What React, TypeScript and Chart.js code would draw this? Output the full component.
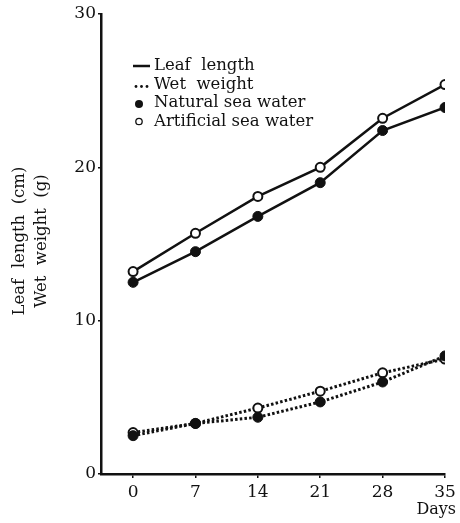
import React, { useEffect, useRef } from "react";
import { Chart, registerables } from "chart.js";

Chart.register(...registerables);

// Sampling days
const days = [0, 7, 14, 21, 28, 35];
const xTicks = [0, 7, 14, 21, 28, 35];
const yTicks = [0, 10, 20, 30];

// Leaf length (cm)
const leafNatural = [12.5, 14.5, 16.8, 19.0, 22.4, 23.9];
const leafArtificial = [13.2, 15.7, 18.1, 20.0, 23.2, 25.4];

// Wet weight (g)
const weightNatural = [2.5, 3.3, 3.7, 4.7, 6.0, 7.7];
const weightArtificial = [2.7, 3.3, 4.3, 5.4, 6.6, 7.5];

const legendItems = [
  { kind: "solid", label: "Leaf  length" },
  { kind: "dotted", label: "Wet  weight" },
  { kind: "filled", label: "Natural sea water" },
  { kind: "open", label: "Artificial sea water" },
];
const yTitleLines = ["Leaf  length  (cm)", "Wet  weight  (g)"];
const xTitle = "Days";

const FONT = '"DejaVu Serif", serif';
const INK = "#111";

const pts = (vals: number[]) => days.map((d, i) => ({ x: d, y: vals[i] }));

const filledPoint = {
  pointRadius: 5,
  pointBackgroundColor: INK,
  pointBorderColor: INK,
  pointBorderWidth: 1,
};
const openPoint = {
  pointRadius: 4.5,
  pointBackgroundColor: "#fff",
  pointBorderColor: INK,
  pointBorderWidth: 2,
};

const annotations = {
  id: "annotations",
  afterDraw(chart: any) {
    const ctx = chart.ctx as CanvasRenderingContext2D;
    ctx.save();
    ctx.fillStyle = INK;
    ctx.strokeStyle = INK;

    // legend
    ctx.font = `16.5px ${FONT}`;
    ctx.textBaseline = "middle";
    ctx.textAlign = "left";
    const lx = 133;
    const tx = 154;
    let ly = 66;
    for (const item of legendItems) {
      if (item.kind === "solid") {
        ctx.lineWidth = 2.5;
        ctx.beginPath();
        ctx.moveTo(lx, ly);
        ctx.lineTo(lx + 17, ly);
        ctx.stroke();
      } else if (item.kind === "dotted") {
        for (let i = 0; i < 3; i++) {
          ctx.beginPath();
          ctx.arc(lx + 3 + i * 5.5, ly + 2, 1.4, 0, Math.PI * 2);
          ctx.fill();
        }
      } else if (item.kind === "filled") {
        ctx.beginPath();
        ctx.arc(lx + 6, ly + 1, 4, 0, Math.PI * 2);
        ctx.fill();
      } else {
        ctx.lineWidth = 1.3;
        ctx.beginPath();
        ctx.arc(lx + 6, ly, 3.2, 0, Math.PI * 2);
        ctx.stroke();
      }
      ctx.fillText(item.label, tx, ly);
      ly += 18.5;
    }

    // y axis title (two rotated lines)
    ctx.font = `16.5px ${FONT}`;
    ctx.textAlign = "center";
    const cy = 241;
    yTitleLines.forEach((line, i) => {
      ctx.save();
      ctx.translate(20 + i * 22, cy);
      ctx.rotate(-Math.PI / 2);
      ctx.fillText(line, 0, 0);
      ctx.restore();
    });

    // x axis title
    ctx.font = `16px ${FONT}`;
    ctx.textAlign = "right";
    ctx.fillText(xTitle, 456, 510);
    ctx.restore();
  },
};

export default function App() {
  const ref = useRef<HTMLCanvasElement>(null);

  useEffect(() => {
    if (!ref.current) return;
    const chart = new Chart(ref.current, {
      type: "line",
      data: {
        datasets: [
          {
            label: "Leaf length, natural sea water",
            data: pts(leafNatural),
            borderColor: INK,
            borderWidth: 2.5,
            ...filledPoint,
          },
          {
            label: "Leaf length, artificial sea water",
            data: pts(leafArtificial),
            borderColor: INK,
            borderWidth: 2.5,
            ...openPoint,
          },
          {
            label: "Wet weight, natural sea water",
            data: pts(weightNatural),
            borderColor: INK,
            borderWidth: 3,
            borderDash: [2.5, 2.2],
            ...filledPoint,
          },
          {
            label: "Wet weight, artificial sea water",
            data: pts(weightArtificial),
            borderColor: INK,
            borderWidth: 3,
            borderDash: [2.5, 2.2],
            ...openPoint,
          },
        ],
      },
      options: {
        responsive: false,
        animation: false,
        layout: { padding: { top: 14, right: 15, left: 0, bottom: 0 } },
        plugins: {
          legend: { display: false },
          tooltip: { enabled: false },
        },
        scales: {
          x: {
            type: "linear",
            min: -3.6,
            max: 35,
            afterFit: (s: any) => {
              s.height = 49;
            },
            afterBuildTicks: (s: any) => {
              s.ticks = xTicks.map((v) => ({ value: v }));
            },
            border: { display: true, color: INK, width: 2.5 },
            grid: {
              drawOnChartArea: false,
              drawTicks: true,
              tickLength: 4,
              color: INK,
              lineWidth: 1.5,
            },
            ticks: {
              color: INK,
              font: { family: FONT, size: 17 },
              padding: 4,
              maxRotation: 0,
              autoSkip: false,
            },
          },
          y: {
            type: "linear",
            min: 0,
            max: 30,
            afterFit: (s: any) => {
              s.width = 101;
            },
            afterBuildTicks: (s: any) => {
              s.ticks = yTicks.map((v) => ({ value: v }));
            },
            border: { display: true, color: INK, width: 2.5 },
            grid: {
              drawOnChartArea: false,
              drawTicks: true,
              tickLength: 3,
              color: INK,
              lineWidth: 1.5,
            },
            ticks: {
              color: INK,
              font: { family: FONT, size: 17 },
              padding: 2,
            },
          },
        },
      },
      plugins: [annotations],
    });
    return () => chart.destroy();
  }, []);

  return (
    <div style={{ position: "absolute", left: 0, top: 0, width: 460, height: 523, background: "#fff" }}>
      <canvas ref={ref} width={460} height={523} />
    </div>
  );
}
